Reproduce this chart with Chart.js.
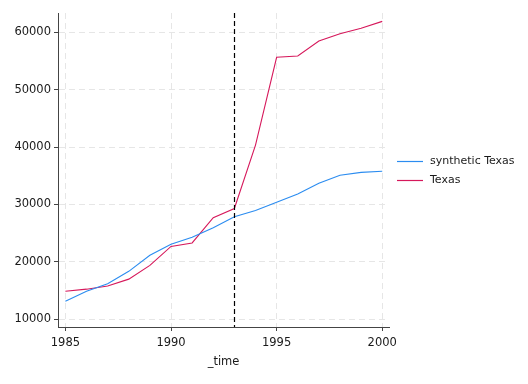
<!DOCTYPE html>
<html>
<head>
<meta charset="utf-8">
<script src="https://cdn.jsdelivr.net/npm/chart.js@4.4.0/dist/chart.umd.min.js"></script>
<style>
html,body{margin:0;padding:0;background:#fff;}
#wrap{width:528px;height:384px;position:relative;}
</style>
</head>
<body>
<div id="wrap"><canvas id="c" width="528" height="384"></canvas></div>
<script>
const years = [1985,1986,1987,1988,1989,1990,1991,1992,1993,1994,1995,1996,1997,1998,1999,2000];
const syntheticTexas = [13140,14900,16200,18360,21150,23070,24290,25960,27880,28950,30380,31830,33700,35100,35600,35780];
const texas = [14880,15250,15800,17000,19400,22700,23300,27700,29300,40350,55640,55870,58480,59760,60700,61900];
const xTicks = [1985,1990,1995,2000];
const yTicks = [10000,20000,30000,40000,50000,60000];
const treatmentYear = 1993;
const seriesNames = ['synthetic Texas','Texas'];
const colors = ['#2b8cf0','#d6185b'];

const FONT = 'DejaVu Sans';

const extras = {
  id: 'extras',
  afterDatasetsDraw(chart) {
    const ctx = chart.ctx, ca = chart.chartArea, xs = chart.scales.x;
    const px = Math.round(xs.getPixelForValue(treatmentYear)) + 0.5;
    ctx.save();
    ctx.strokeStyle = '#000';
    ctx.lineWidth = 1.2;
    ctx.setLineDash([5, 3]);
    ctx.beginPath();
    ctx.moveTo(px, ca.top);
    ctx.lineTo(px, ca.bottom);
    ctx.stroke();
    ctx.restore();
    // legend
    ctx.save();
    ctx.font = '11px "' + FONT + '"';
    ctx.textBaseline = 'middle';
    ctx.fillStyle = '#1a1a1a';
    const ys = [161.5, 180.5];
    seriesNames.forEach((n, i) => {
      ctx.strokeStyle = colors[i];
      ctx.lineWidth = 1.2;
      ctx.beginPath();
      ctx.moveTo(397, ys[i]);
      ctx.lineTo(423, ys[i]);
      ctx.stroke();
      ctx.fillText(n, 430, ys[i]);
    });
    ctx.restore();
  }
};

new Chart(document.getElementById('c'), {
  type: 'line',
  data: {
    datasets: [
      { label: seriesNames[0], data: years.map((y, i) => ({x: y, y: syntheticTexas[i]})), borderColor: colors[0], borderWidth: 1.1, pointRadius: 0, tension: 0, fill: false },
      { label: seriesNames[1], data: years.map((y, i) => ({x: y, y: texas[i]})), borderColor: colors[1], borderWidth: 1.1, pointRadius: 0, tension: 0, fill: false }
    ]
  },
  options: {
    responsive: false,
    animation: false,
    events: [],
    layout: { padding: { top: 13, right: 139, left: 0, bottom: 15 } },
    plugins: { legend: { display: false }, tooltip: { enabled: false } },
    scales: {
      x: {
        type: 'linear',
        min: 1984.65,
        max: 2000.32,
        afterBuildTicks: s => { s.ticks = xTicks.map(v => ({value: v})); },
        afterFit: s => { s.height = 384 - 15 - 327; },
        ticks: { color: '#1a1a1a', font: { family: FONT, size: 11.5 }, padding: 5, maxRotation: 0, callback: v => String(v) },
        grid: { color: '#e6e6e6', lineWidth: 1, drawTicks: true, tickLength: 4, tickColor: '#444', tickBorderDash: [0, 0] },
        border: { display: true, color: '#444', width: 1, dash: [6, 4] },
        title: { display: true, text: '_time', color: '#1a1a1a', font: { family: FONT, size: 11.5 }, padding: { top: 0, bottom: 0 } }
      },
      y: {
        type: 'linear',
        min: 8660,
        max: 63360,
        afterBuildTicks: s => { s.ticks = yTicks.map(v => ({value: v})); },
        afterFit: s => { s.width = 58; },
        ticks: { color: '#1a1a1a', font: { family: FONT, size: 11.5 }, padding: 3, callback: v => String(v) },
        grid: { color: '#e6e6e6', lineWidth: 1, drawTicks: true, tickLength: 4, tickColor: '#444', tickBorderDash: [0, 0] },
        border: { display: true, color: '#444', width: 1, dash: [6, 4] }
      }
    }
  },
  plugins: [extras]
});
</script>
</body>
</html>
